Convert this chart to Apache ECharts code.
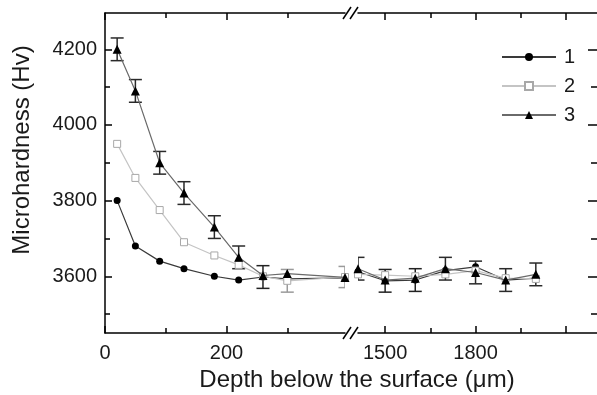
<!DOCTYPE html>
<html><head><meta charset="utf-8">
<script src="https://cdn.jsdelivr.net/npm/echarts@6/dist/echarts.min.js"></script>
<style>html,body{margin:0;padding:0;background:#fff}#c{width:597px;height:395px}</style>
</head><body><div id="c"></div>
<script>
// ---- data ----
const seriesNames = ['1', '2', '3'];
const depthLeft  = [20, 50, 90, 130, 180, 220, 260, 300, 395];
const depthRight = [1410, 1500, 1600, 1700, 1800, 1900, 2000];

const s1Left  = [3800, 3680, 3640, 3620, 3600, 3590, 3598, 3593, 3596];
const s2Left  = [3950, 3860, 3775, 3690, 3655, 3630, 3600, 3588, 3598];
const s3Left  = [4200, 4090, 3900, 3820, 3730, 3650, 3602, 3607, 3597];

const s1Right = [3612, 3588, 3590, 3615, 3625, 3590, 3595];
const s2Right = [3605, 3603, 3600, 3605, 3615, 3595, 3593];
const s3Right = [3620, 3590, 3595, 3620, 3610, 3590, 3605];

// error bar half-widths (null = no bar)
const err1Left  = [null, null, null, null, null, null, 30, null, null];
const err2Left  = [null, null, null, null, null, null, null, 30, 28];
const err3Left  = [30, 30, 30, 30, 30, 30, null, null, null];
const err1Right = [null, 30, 30, null, null, null, null];
const err2Right = [null, null, null, null, null, null, null];
const err3Right = [30, null, null, 30, 30, 30, 30];

const yTicks = [3600, 3800, 4000, 4200];
const yMinorTicks = [3500, 3700, 3900, 4100];
const xTicksLeft = [0, 200];
const xMinorLeft = [100, 300];
const xTicksRight = [1500, 1800, 2100];
const xMinorRight = [1650, 1950];
const xLabelsRight = [1500, 1800];

// ---- styles ----
const FONT = '"Liberation Sans", Arial, sans-serif';
const TXT = '#1a1a1a';
const styles = [
  {symbol: 'circle', size: 7, line: '#3a3a3a', fill: '#000', border: '#000', err: '#222'},
  {symbol: 'rect', size: 7, line: '#c4c4c4', fill: '#fff', border: '#a8a8a8', err: '#9a9a9a'},
  {symbol: 'triangle', size: 9, line: '#6a6a6a', fill: '#000', border: '#000', err: '#2a2a2a'}
];

const Y_MIN = 3450, Y_MAX = 4296;
const XL_MIN = 0, XL_MAX = 395;
const XR_MIN = 1410, XR_MAX = 2203;
const GRID_TOP = 13, GRID_H = 320;

function plain(v) { return String(v); }

function xAx(grid, pos, min, max, ticks, labels, len, line) {
  return {
    type: 'value', gridIndex: grid, position: pos, min: min, max: max,
    axisLine: {show: line, onZero: false, lineStyle: {color: '#000', width: 1.5}},
    axisTick: {show: true, inside: true, length: len, customValues: ticks, lineStyle: {color: '#000', width: 1.5}},
    axisLabel: labels ? {show: true, customValues: labels, formatter: plain, margin: 10, color: TXT, fontSize: 20, fontFamily: FONT} : {show: false},
    splitLine: {show: false}
  };
}
function yAx(grid, pos, ticks, labels, len, line) {
  return {
    type: 'value', gridIndex: grid, position: pos, min: Y_MIN, max: Y_MAX,
    axisLine: {show: line, onZero: false, lineStyle: {color: '#000', width: 1.5}},
    axisTick: {show: true, inside: true, length: len, customValues: ticks, lineStyle: {color: '#000', width: 1.5}},
    axisLabel: labels ? {show: true, customValues: labels, formatter: plain, margin: 8, color: TXT, fontSize: 20, fontFamily: FONT} : {show: false},
    splitLine: {show: false}
  };
}

const grids = [
  {left: 105, top: GRID_TOP, width: 240, height: GRID_H},
  {left: 358, top: GRID_TOP, width: 241, height: GRID_H},
  {left: 105, top: GRID_TOP, width: 240, height: GRID_H},
  {left: 358, top: GRID_TOP, width: 241, height: GRID_H}
];

const xAxes = [
  xAx(0, 'bottom', XL_MIN, XL_MAX, xTicksLeft, xTicksLeft, 7, true),
  xAx(0, 'top', XL_MIN, XL_MAX, xTicksLeft, null, 7, true),
  xAx(1, 'bottom', XR_MIN, XR_MAX, xTicksRight, xLabelsRight, 7, true),
  xAx(1, 'top', XR_MIN, XR_MAX, xTicksRight, null, 7, true),
  xAx(2, 'bottom', XL_MIN, XL_MAX, xMinorLeft, null, 5, false),
  xAx(2, 'top', XL_MIN, XL_MAX, xMinorLeft, null, 5, false),
  xAx(3, 'bottom', XR_MIN, XR_MAX, xMinorRight, null, 5, false),
  xAx(3, 'top', XR_MIN, XR_MAX, xMinorRight, null, 5, false)
];
const yAxes = [
  yAx(0, 'left', yTicks, yTicks, 7, true),
  yAx(1, 'right', yTicks, null, 9, false),
  yAx(2, 'left', yMinorTicks, null, 5, false),
  yAx(3, 'right', yMinorTicks, null, 6, false)
];

function lineSeries(i, xs, ys, xi, yi) {
  const st = styles[i];
  return {
    type: 'line', name: seriesNames[i], xAxisIndex: xi, yAxisIndex: yi,
    data: xs.map((x, k) => [x, ys[k]]),
    symbol: st.symbol, symbolSize: st.size, showSymbol: true,
    lineStyle: {color: st.line, width: 1.2},
    itemStyle: {color: st.fill, borderColor: st.border, borderWidth: i === 1 ? 1 : 0},
    clip: true, z: 3 + i, animation: false
  };
}
function errSeries(i, xs, ys, errs, xi, yi) {
  const st = styles[i];
  const data = [];
  xs.forEach((x, k) => { if (errs[k] != null) data.push([x, ys[k] - errs[k], ys[k] + errs[k]]); });
  return {
    type: 'custom', xAxisIndex: xi, yAxisIndex: yi, clip: true, z: 2, silent: true, animation: false,
    data: data,
    renderItem: function (params, api) {
      const cs = params.coordSys;
      const x = api.value(0);
      const lo = api.coord([x, api.value(1)]);
      const hi = api.coord([x, api.value(2)]);
      const w = 6.5;
      const xa = Math.max(lo[0] - w, cs.x), xb = Math.min(lo[0] + w, cs.x + cs.width);
      const ls = {stroke: st.err, lineWidth: 1.5};
      return {type: 'group', children: [
        {type: 'line', shape: {x1: lo[0], y1: lo[1], x2: hi[0], y2: hi[1]}, style: ls},
        {type: 'line', shape: {x1: xa, y1: lo[1], x2: xb, y2: lo[1]}, style: ls},
        {type: 'line', shape: {x1: xa, y1: hi[1], x2: xb, y2: hi[1]}, style: ls}
      ]};
    }
  };
}

const leftY = [s1Left, s2Left, s3Left];
const rightY = [s1Right, s2Right, s3Right];
const leftE = [err1Left, err2Left, err3Left];
const rightE = [err1Right, err2Right, err3Right];

const series = [];
[1, 0, 2].forEach(i => {
  series.push(errSeries(i, depthLeft, leftY[i], leftE[i], 0, 0));
  series.push(errSeries(i, depthRight, rightY[i], rightE[i], 2, 1));
});
[1, 0, 2].forEach(i => {
  series.push(lineSeries(i, depthLeft, leftY[i], 0, 0));
  series.push(lineSeries(i, depthRight, rightY[i], 2, 1));
});

// break marks
const breakMarks = [];
[GRID_TOP, GRID_TOP + GRID_H].forEach(y => {
  [[343, 351], [350, 358]].forEach(p => {
    breakMarks.push({type: 'line', shape: {x1: p[0], y1: y + 6, x2: p[1], y2: y - 6},
      style: {stroke: '#000', lineWidth: 1.5}, z: 10});
  });
});

const chart = echarts.init(document.getElementById('c'), null, {renderer: 'canvas'});
chart.setOption({
  animation: false,
  backgroundColor: '#fff',
  grid: grids,
  xAxis: xAxes,
  yAxis: yAxes,
  legend: {
    data: seriesNames, orient: 'vertical', left: 496, top: 42, itemWidth: 54, itemHeight: 10, itemGap: 9,
    textStyle: {fontSize: 20, fontFamily: FONT, color: TXT, padding: [0, 0, 0, 3]}
  },
  graphic: breakMarks.concat([
    {type: 'text', x: 22, y: 150, rotation: Math.PI / 2,
      style: {text: 'Microhardness (Hv)', font: '24px ' + FONT, fill: TXT, align: 'center', verticalAlign: 'middle'}},
    {type: 'text', x: 357, y: 380,
      style: {text: 'Depth below the surface (\u03bcm)', font: '24px ' + FONT, fill: TXT, align: 'center', verticalAlign: 'middle'}}
  ]),
  series: series
});
</script>
</body></html>
